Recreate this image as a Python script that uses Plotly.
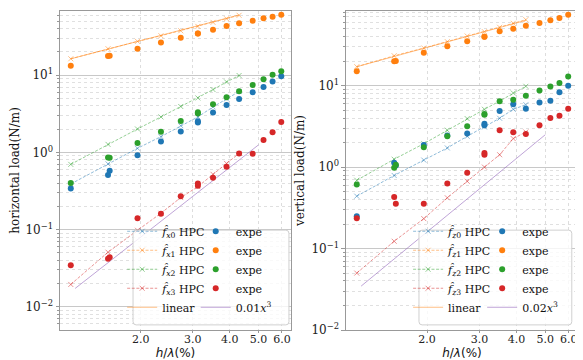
import plotly.graph_objects as go
from plotly.subplots import make_subplots

# wave steepness h/lambda (%)
x_hpc = [1.16, 1.55, 1.95, 2.34, 2.73, 3.12, 3.51, 3.90, 4.30]
x_expe = [1.16, 1.55, 1.57, 1.95, 2.34, 2.73, 3.12, 3.12, 3.51, 3.90, 4.30, 4.78, 5.20, 5.58, 5.97]

# horizontal load (N/m), HPC
fx0_hpc = [0.39, 0.71, 1.13, 1.60, 2.22, 2.88, 3.88, 4.92, 6.14]
fx1_hpc = [16.3, 22.0, 27.4, 32.4, 37.6, 42.8, 48.3, 53.8, 59.6]
fx2_hpc = [0.70, 1.27, 2.01, 2.88, 3.93, 5.07, 6.51, 8.18, 9.9]
fx3_hpc = [0.0195, 0.051, 0.098, 0.163, 0.26, 0.36, 0.52, 0.72, 0.97]
# horizontal load, experiments
fx0_expe = [0.34, 0.51, 0.58, 0.92, 1.38, 1.87, 2.43, 2.53, 3.28, 4.11, 4.92, 6.01, 7.05, 8.28, 9.7]
fx1_expe = [13.2, 17.7, 17.9, 22.0, 26.5, 30.5, 34.7, 34.7, 38.7, 43.2, 46.9, 50.7, 54.4, 57.2, 60.7]
fx2_expe = [0.40, 0.86, 0.85, 1.32, 1.85, 2.55, 3.20, 3.30, 4.20, 5.17, 6.20, 7.48, 8.87, 10.1, 11.2]
fx3_expe = [0.0345, 0.042, 0.044, 0.140, 0.161, 0.27, 0.37, 0.395, 0.47, 0.65, 0.97, 0.96, 1.45, 1.82, 2.48]

# vertical load (N/m), HPC
fz0_hpc = [0.44, 0.79, 1.22, 1.72, 2.39, 3.11, 3.98, 5.13, 5.84]
fz1_hpc = [17.1, 23.3, 29.0, 34.7, 40.7, 46.0, 52.1, 58.3, 64.6]
fz2_hpc = [0.69, 1.25, 1.94, 2.84, 3.94, 5.13, 6.48, 8.13, 9.83]
fz3_hpc = [0.050, 0.123, 0.233, 0.42, 0.67, 1.00, 1.42, 2.24, 2.70]
# vertical load, experiments
fz0_expe = [0.25, 1.13, 1.05, 1.87, 2.44, 2.58, 3.27, 3.42, 4.90, 5.92, 5.22, 6.20, 6.55, 8.30, 10.0]
fz1_expe = [15.0, 19.9, 20.1, 25.4, 30.4, 35.1, 39.9, 40.0, 46.5, 50.0, 54.5, 58.7, 63.4, 67.7, 74.3]
fz2_expe = [0.61, 0.98, 1.07, 1.75, 2.40, 3.18, 4.40, 4.50, 6.44, 6.73, 7.53, 8.70, 9.80, 10.8, 13.0]
fz3_expe = [0.235, 0.43, 0.356, 0.356, 0.63, 0.85, 1.42, 1.49, 2.84, 2.68, 2.55, 3.27, 4.02, 4.28, 5.22]

# reference slopes (end points)
x_lin = [1.16, 4.30]
lin_x = [16.3, 60.2]
lin_z = [17.1, 63.4]
x_cub = [1.2, 5.0]
cub_x = [0.0173, 1.25]
cub_z = [0.0346, 2.50]

colors = ["#1f77b4", "#ff7f0e", "#2ca02c", "#d62728"]
faded = ["rgba(31,119,180,0.5)", "rgba(255,127,14,0.5)", "rgba(44,160,44,0.5)", "rgba(214,39,40,0.5)"]
purple = "rgba(148,103,189,0.6)"

x_ticks = [2, 3, 4, 5, 6]
x_ticktext = ["2.0", "3.0", "4.0", "5.0", "6.0"]
y_ticks = [0.01, 0.1, 1, 10]
y_ticktext = ["10<sup>\u22122</sup>", "10<sup>\u22121</sup>", "10<sup>0</sup>", "10<sup>1</sup>"]
y_minor = [m * 10 ** e for e in range(-3, 2) for m in range(2, 10)]

SERIF = "DejaVu Serif"

fig = make_subplots(rows=1, cols=2, horizontal_spacing=0.1)

panels = [
    (1, "x", [fx0_hpc, fx1_hpc, fx2_hpc, fx3_hpc], [fx0_expe, fx1_expe, fx2_expe, fx3_expe],
     lin_x, cub_x, "0.01", "legend", "legend2"),
    (2, "z", [fz0_hpc, fz1_hpc, fz2_hpc, fz3_hpc], [fz0_expe, fz1_expe, fz2_expe, fz3_expe],
     lin_z, cub_z, "0.02", "legend3", "legend4"),
]

for col, comp, hpcs, expes, lin, cub, coef, leg_a, leg_b in panels:
    for i, ys in enumerate(hpcs):
        fig.add_trace(go.Scatter(
            x=x_hpc, y=ys, mode="lines+markers",
            name=f"<i>f\u0302</i><sub><i>{comp}</i>{i}</sub> HPC",
            line=dict(color=faded[i], width=1, dash="3px,1.6px"),
            marker=dict(symbol="x-thin", size=5, line=dict(color=faded[i], width=1)),
            legend=leg_a, legendrank=i + 1,
        ), row=1, col=col)
    fig.add_trace(go.Scatter(
        x=x_lin, y=lin, mode="lines", name="linear",
        line=dict(color=faded[1], width=1),
        legend=leg_a, legendrank=5,
    ), row=1, col=col)
    fig.add_trace(go.Scatter(
        x=x_cub, y=cub, mode="lines", name=f"{coef}<i>x</i><sup>3</sup>",
        line=dict(color=purple, width=1),
        legend=leg_b, legendrank=5,
    ), row=1, col=col)
    for i, ys in enumerate(expes):
        fig.add_trace(go.Scatter(
            x=x_expe, y=ys, mode="markers", name="expe",
            marker=dict(color=colors[i], size=6),
            legend=leg_b, legendrank=i + 1,
        ), row=1, col=col)

fig.update_xaxes(
    type="log", range=[0.028, 0.809],
    tickvals=x_ticks, ticktext=x_ticktext,
    ticks="outside", ticklen=2, tickcolor="#999", ticklabelstandoff=-3,
    showgrid=True, gridcolor="#dddddd", griddash="dot", gridwidth=0.8,
    showline=True, linecolor="#999", linewidth=1, mirror=True,
    title=dict(text="<i>h</i>/<i>\u03bb</i>(%)", font=dict(family="DejaVu Sans", size=12), standoff=0),
    tickfont=dict(family=SERIF, size=11, color="#222"),
    zeroline=False,
)
fig.update_yaxes(
    type="log",
    tickvals=y_ticks, ticktext=y_ticktext,
    ticks="outside", ticklen=3.5, tickcolor="#999",
    showgrid=True, gridcolor="#c8c8c8", gridwidth=1,
    minor=dict(tickvals=y_minor, ticks="outside", ticklen=2, tickcolor="#999",
               showgrid=True, gridcolor="#e0e0e0", griddash="dot", gridwidth=0.8),
    showline=True, linecolor="#999", linewidth=1, mirror=True,
    tickfont=dict(family=SERIF, size=12, color="#222"),
    zeroline=False,
)
fig.update_yaxes(range=[-2.3, 1.831], title=dict(text="horizontal load(N/m)", standoff=4,
                 font=dict(family=SERIF, size=12)), row=1, col=1)
fig.update_yaxes(range=[-2.0, 1.917], title=dict(text="vertical load(N/m)", standoff=4,
                 font=dict(family=SERIF, size=12)), row=1, col=2)
fig.update_xaxes(domain=[0, 0.446], row=1, col=1)
fig.update_xaxes(domain=[0.552, 1], row=1, col=2)


def rounded_box(x0, y0, x1, y1, rx=0.006, ry=0.01):
    return (f"M {x0 + rx},{y0} L {x1 - rx},{y0} Q {x1},{y0} {x1},{y0 + ry} "
            f"L {x1},{y1 - ry} Q {x1},{y1} {x1 - rx},{y1} L {x0 + rx},{y1} "
            f"Q {x0},{y1} {x0},{y1 - ry} L {x0},{y0 + ry} Q {x0},{y0} {x0 + rx},{y0} Z")


for bx0, bx1 in [(0.141, 0.442), (0.693, 0.988)]:
    fig.add_shape(type="path", path=rounded_box(bx0, 0.016, bx1, 0.313),
                  xref="paper", yref="paper", layer="above",
                  fillcolor="rgba(255,255,255,0.8)", line=dict(color="#d0d0d0", width=1))

leg_style = dict(bgcolor="rgba(0,0,0,0)", font=dict(family=SERIF, size=11, color="#111"),
                 yanchor="top", y=0.355, xanchor="left", itemwidth=30)
fig.update_layout(
    width=583, height=360,
    margin=dict(l=52, r=13, t=3, b=38),
    paper_bgcolor="white", plot_bgcolor="white",
    font=dict(family=SERIF, color="#111"),
    legend=dict(x=0.12, **leg_style),
    legend2=dict(x=0.262, **leg_style),
    legend3=dict(x=0.672, **leg_style),
    legend4=dict(x=0.815, **leg_style),
)

fig.write_html("out.html")
